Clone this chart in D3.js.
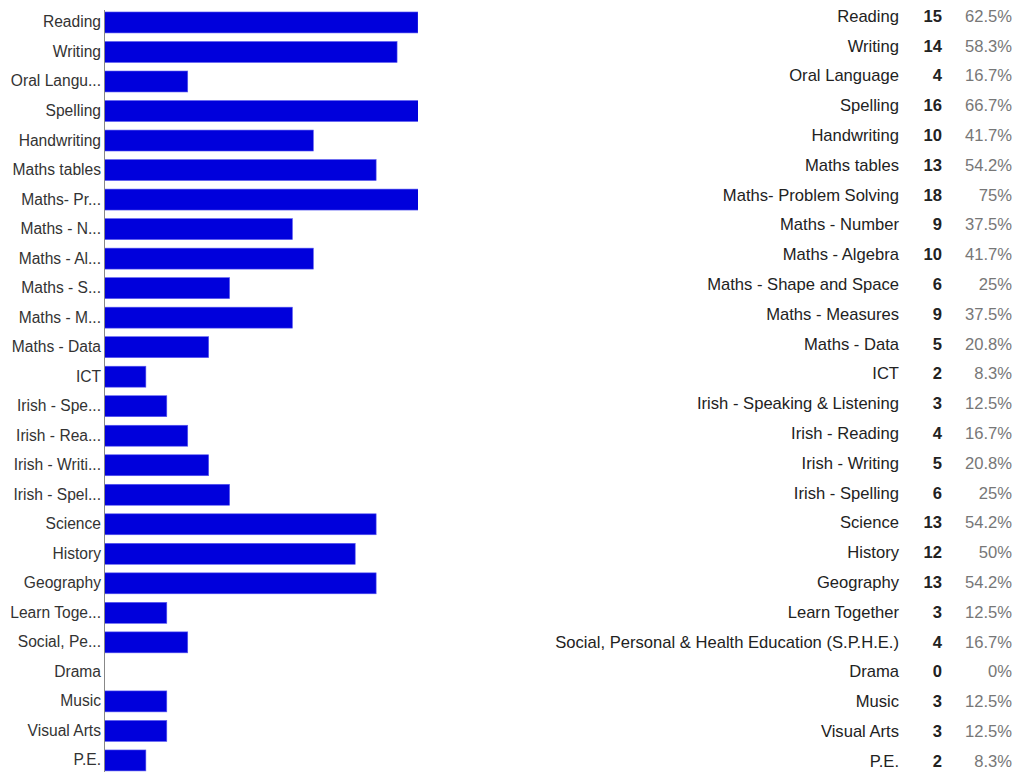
<!DOCTYPE html>
<html>
<head>
	<meta charset="utf-8">
	<script src="https://cdnjs.cloudflare.com/ajax/libs/d3/7.8.5/d3.min.js"></script>
	<style>
		body { margin: 0; background: #fff; }
		svg { font-family: Arial, "Liberation Sans", sans-serif; }
	</style>
</head>
<body>
	<svg width="1017" height="772" id="chart"></svg>
	<script>
	//subject names, as listed in the table
	var subjects = ["Reading", "Writing", "Oral Language", "Spelling", "Handwriting", "Maths tables",
		"Maths- Problem Solving", "Maths - Number", "Maths - Algebra", "Maths - Shape and Space",
		"Maths - Measures", "Maths - Data", "ICT", "Irish - Speaking & Listening", "Irish - Reading",
		"Irish - Writing", "Irish - Spelling", "Science", "History", "Geography", "Learn Together",
		"Social, Personal & Health Education (S.P.H.E.)", "Drama", "Music", "Visual Arts", "P.E."];

	//shortened axis labels
	var tickLabels = ["Reading", "Writing", "Oral Langu...", "Spelling", "Handwriting", "Maths tables",
		"Maths- Pr...", "Maths - N...", "Maths - Al...", "Maths - S...", "Maths - M...", "Maths - Data",
		"ICT", "Irish - Spe...", "Irish - Rea...", "Irish - Writi...", "Irish - Spel...", "Science",
		"History", "Geography", "Learn Toge...", "Social, Pe...", "Drama", "Music", "Visual Arts", "P.E."];

	var counts = [15, 14, 4, 16, 10, 13, 18, 9, 10, 6, 9, 5, 2, 3, 4, 5, 6, 13, 12, 13, 3, 4, 0, 3, 3, 2];
	var percents = ["62.5%", "58.3%", "16.7%", "66.7%", "41.7%", "54.2%", "75%", "37.5%", "41.7%", "25%",
		"37.5%", "20.8%", "8.3%", "12.5%", "16.7%", "20.8%", "25%", "54.2%", "50%", "54.2%", "12.5%",
		"16.7%", "0%", "12.5%", "12.5%", "8.3%"];

	var svg = d3.select("svg");
	var left = 104, plotW = 314;

	//bar scale tops out at 15, longer bars are clipped
	var x = d3.scaleLinear().domain([0, 15]).range([0, plotW]);
	var y = d3.scaleBand().domain(d3.range(subjects.length)).range([7.7, 775.2]).paddingInner(0.29).paddingOuter(0.145);

	var g = svg.append("g").attr("transform", "translate(" + left + ",0)");

	svg.append("clipPath").attr("id", "clip")
		.append("rect").attr("x", 0).attr("y", 0).attr("width", plotW).attr("height", 772);

	g.append("g").attr("clip-path", "url(#clip)")
		.selectAll("rect")
		.data(counts)
		.enter().append("rect")
		.attr("x", 0)
		.attr("y", function(d, i) { return y(i); })
		.attr("width", function(d) { return x(d); })
		.attr("height", y.bandwidth())
		.attr("fill", "#0000dc")
		.attr("stroke", "#5a5af0")
		.attr("stroke-width", 0.6);

	//left axis
	var axis = g.append("g")
		.call(d3.axisLeft(y).tickSize(0).tickPadding(3).tickFormat(function(i) { return tickLabels[i]; }));
	axis.select(".domain").attr("stroke", "#888").attr("d", "M0.5,10V772");
	axis.selectAll("text").attr("fill", "#333").style("font-size", "15.6px").style("font-family", "Arial, 'Liberation Sans', sans-serif");

	//table on the right
	var rowY = d3.scaleBand().domain(d3.range(subjects.length)).range([1, 776]);
	var table = svg.append("g").style("font-size", "16.6px");
	var rows = table.selectAll("g")
		.data(subjects)
		.enter().append("g")
		.attr("transform", function(d, i) { return "translate(0," + (rowY(i) + rowY.bandwidth() / 2) + ")"; });

	rows.append("text")
		.attr("x", 899).attr("dy", "0.35em").attr("text-anchor", "end").attr("fill", "#222")
		.text(function(d) { return d; });
	rows.append("text")
		.attr("x", 942).attr("dy", "0.35em").attr("text-anchor", "end").attr("fill", "#222")
		.style("font-weight", "bold")
		.text(function(d, i) { return counts[i]; });
	rows.append("text")
		.attr("x", 1012).attr("dy", "0.35em").attr("text-anchor", "end").attr("fill", "#777")
		.text(function(d, i) { return percents[i]; });
	</script>
</body>
</html>
